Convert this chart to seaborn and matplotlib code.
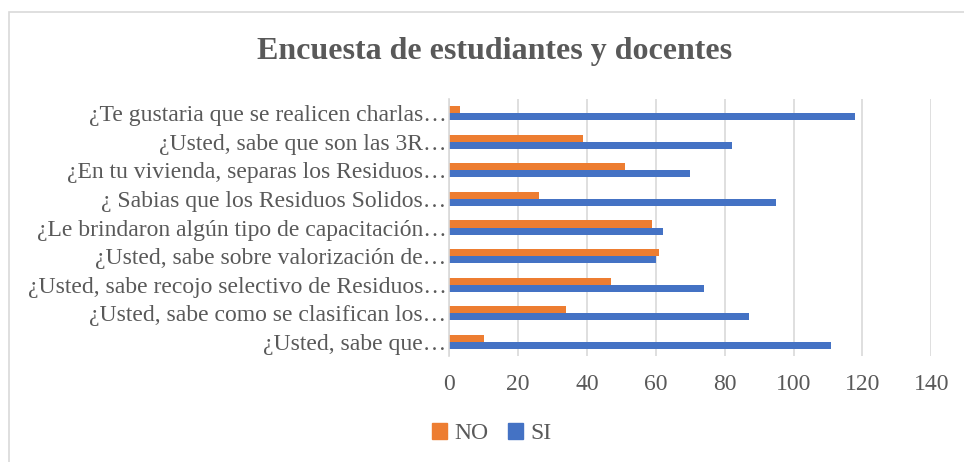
import pandas as pd
import matplotlib.pyplot as plt
import matplotlib.patches as mpatches
import seaborn as sns

# ── Datos ──────────────────────────────────────────────────────────────
preguntas = [
    "¿Te gustaria que se realicen charlas…",
    "¿Usted, sabe que son las 3R…",
    "¿En tu vivienda, separas los Residuos…",
    "¿ Sabias que los Residuos Solidos…",
    "¿Le brindaron algún tipo de capacitación…",
    "¿Usted, sabe sobre valorización de…",
    "¿Usted, sabe recojo selectivo de Residuos…",
    "¿Usted, sabe como se clasifican los…",
    "¿Usted, sabe que…",
]
respuestas_no = [3, 39, 51, 26, 59, 61, 47, 34, 10]
respuestas_si = [118, 82, 70, 95, 62, 60, 74, 87, 111]
series = ["NO", "SI"]
colores = ["#ED7D31", "#4472C4"]
xticks = [0, 20, 40, 60, 80, 100, 120, 140]

GRIS_TEXTO = "#595959"
GRIS_LINEA = "#D9D9D9"

df = pd.DataFrame({
    "pregunta": preguntas * 2,
    "respuesta": ["NO"] * len(preguntas) + ["SI"] * len(preguntas),
    "valor": respuestas_no + respuestas_si,
})

sns.set_style("white")
plt.rcParams["font.family"] = ["Liberation Serif", "DejaVu Serif"]

fig = plt.figure(figsize=(9.64, 4.62), dpi=100)
ax = fig.add_axes([0.466, 0.229, 0.5, 0.557])

sns.barplot(
    data=df, y="pregunta", x="valor", hue="respuesta",
    order=preguntas, hue_order=series, palette=colores,
    orient="h", width=0.5, ax=ax, legend=False,
    edgecolor="none", saturation=1,
)

ax.set_xlim(0, 140)
ax.set_xticks(xticks)
ax.set_ylim(8.5, -0.5)
ax.set_xlabel("")
ax.set_ylabel("")
ax.xaxis.grid(True, color=GRIS_LINEA, linewidth=1.2)
ax.set_axisbelow(True)
for lado in ["top", "right", "bottom"]:
    ax.spines[lado].set_visible(False)
ax.spines["left"].set_color(GRIS_LINEA)
ax.spines["left"].set_linewidth(1.2)
ax.tick_params(axis="x", length=0, pad=13, labelsize=17, colors=GRIS_TEXTO)
ax.tick_params(axis="y", length=0, pad=2, labelsize=17, colors=GRIS_TEXTO)

fig.text(0.513, 0.888, "Encuesta de estudiantes y docentes",
         ha="center", va="center", fontsize=23, fontweight="bold",
         color=GRIS_TEXTO)

leyenda = [mpatches.Patch(color=c, label=s) for s, c in zip(series, colores)]
fig.legend(handles=leyenda, loc="center", bbox_to_anchor=(0.51, 0.062),
           ncol=2, frameon=False, fontsize=17, labelcolor=GRIS_TEXTO,
           handlelength=0.65, handleheight=0.65, handletextpad=0.3,
           columnspacing=0.8)

# marco del gráfico (solo se ven el borde izquierdo y el superior)
fig.patches.append(mpatches.Rectangle(
    (0.0093, -0.05), 1.1, 1.023, transform=fig.transFigure,
    fill=False, edgecolor=GRIS_LINEA, linewidth=1.2))

fig.savefig("out.png", dpi=100, facecolor="white")
